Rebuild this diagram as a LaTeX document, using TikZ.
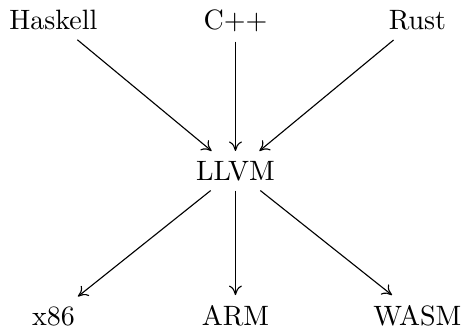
\documentclass[tikz,border=0pt]{standalone}
\usetikzlibrary{arrows.meta}
\begin{document}
\begin{tikzpicture}[x=1pt,y=1pt,
  lang/.style={anchor=base},
  arr/.style={-{To[length=3.4pt,width=4.6pt]}}]
\useasboundingbox (-84.1,-52.9) rectangle (82.7,64.3);
\node[lang] (hs) at (-65,53.75) {Haskell};
\node[lang] (cpp) at (0,53.75) {C++};
\node[lang] (rs) at (65,53.75) {Rust};
\node[lang] (llvm) at (0,0) {LLVM};
\node[lang] (x86) at (-65,-51.8) {x86};
\node[lang] (arm) at (0,-51.8) {ARM};
\node[lang] (wasm) at (65,-51.8) {WASM};
\draw[arr] (hs) -- (llvm);
\draw[arr] (cpp) -- (llvm);
\draw[arr] (rs) -- (llvm);
\draw[arr] (llvm) -- (x86);
\draw[arr] (llvm) -- (arm);
\draw[arr] (llvm) -- (wasm);
\end{tikzpicture}
\end{document}
